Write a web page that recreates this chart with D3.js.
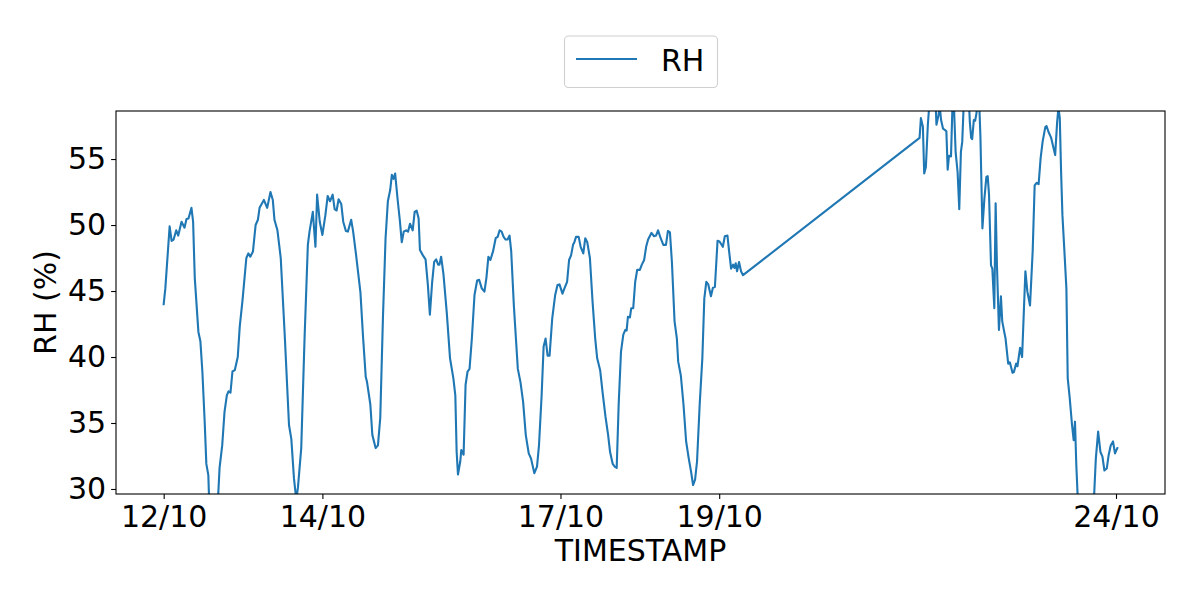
<!DOCTYPE html>
<html>
<head>
<meta charset="utf-8">
<script src="https://cdn.jsdelivr.net/npm/d3@7"></script>
<style>
  html, body { margin: 0; padding: 0; background: #fff; }
  svg { display: block; }
  text { font-family: "DejaVu Sans", sans-serif; fill: #000; }
</style>
</head>
<body>
<svg id="chart" width="1200" height="600"></svg>
<script>
// ---- data: hours after 12/10 00:00, relative humidity (%) ----
const hours = [
  0,0.5,1.8,2.4,3.0,3.8,4.4,5.4,6.3,6.9,7.5,8.4,8.9,9.4,10.5,11.1,11.7,12.4,12.9,13.5,13.7,15.1,16.5,16.9,17.7,18.4,19.1,19.6,20.2,20.8,21.5,22.4,23.0,23.8,25.0,25.6,26.2,27.0,27.8,28.5,29.0,30.3,31.3,32.3,33.0,33.5,34.4,35.4,36.6,37.9,38.6,39.4,40.1,40.6,41.6,42.6,43.6,44.1,45.1,45.9,46.4,47.2,48.0,48.9,49.6,50.3,51.1,51.7,52.3,52.9,53.7,54.3,55.1,55.7,56.7,57.3,58.2,59.5,60.3,61.1,61.5,62.5,63.1,64.1,64.8,65.5,66.3,67.1,67.8,68.5,69.0,69.5,70.0,70.8,71.4,72.0,72.6,73.3,73.9,74.5,75.3,75.9,76.5,77.1,77.5,78.4,79.2,79.9,80.5,81.2,81.8,82.4,83.0,83.4,83.9,84.6,85.6,86.6,87.6,88.2,88.6,89.0,89.7,90.0,90.7,91.3,91.9,92.5,93.2,94.0,94.8,95.4,96.2,97.0,97.6,98.2,98.8,99.6,100.4,101.0,101.6,102.2,102.8,103.4,104.0,104.6,105.1,105.9,107.1,107.9,108.7,109.5,110.4,111.1,112.1,112.9,113.5,114.3,114.9,115.5,116.1,116.7,117.5,118.4,119.1,119.7,120.6,121.2,122.0,122.6,123.2,123.8,124.2,124.7,125.5,126.1,126.9,127.5,128.1,128.9,129.7,130.5,131.1,132.0,132.7,133.6,134.4,135.0,135.8,136.4,137.0,137.6,138.3,139.0,139.6,140.0,140.4,141.0,141.4,142.0,142.6,143.2,144.0,144.6,145.3,145.9,146.5,147.5,148.3,148.9,149.5,150.3,151.1,151.9,152.5,153.1,153.7,154.5,155.2,155.6,156.4,157.2,158.0,158.8,159.5,160.1,160.7,161.3,162.1,162.9,163.5,164.1,164.7,165.5,166.1,166.7,167.5,168.1,169.1,169.7,170.5,171.0,171.6,172.2,172.6,173.0,173.4,174.0,174.6,175.2,
  228.6,229.0,229.6,230.0,230.5,231.1,231.8,232.7,233.4,233.7,234.3,234.7,235.1,235.7,236.3,236.7,237.1,237.5,238.1,238.6,238.9,239.1,239.5,240.1,240.6,241.1,241.5,242.0,242.8,243.5,243.8,244.2,244.5,245.0,245.4,245.8,246.3,246.6,247.0,247.6,248.2,248.8,249.2,249.6,250.2,250.6,251.2,251.6,252.0,252.6,253.2,253.6,254.2,254.6,255.4,255.9,256.7,257.1,257.8,258.2,259.0,259.6,260.2,260.6,261.2,262.0,262.8,263.4,264.0,264.6,265.2,265.8,266.6,267.0,267.6,268.4,269.0,269.6,270.2,270.6,271.0,271.4,271.8,272.4,273.0,273.4,274.0,274.7,275.2,275.6,276.0,276.4,277.9,279.7,281.4,281.9,282.6,283.3,283.9,284.5,285.2,285.8,286.4,287.1,287.7,288.4
];
const rh = [
  44.0,45.2,49.9,48.8,48.9,49.6,49.2,50.25,49.8,50.45,50.5,51.3,50.25,46.0,41.9,41.2,38.9,35.1,31.9,31.05,29.5,27.0,29.6,31.6,33.3,35.85,37.1,37.4,37.3,38.9,39.0,40.0,42.3,44.2,47.5,47.85,47.6,48.0,50.0,50.4,51.3,51.9,51.3,52.5,51.9,50.4,49.6,47.5,41.7,34.85,33.8,30.8,29.2,30.1,33.1,41.4,48.5,49.5,51.0,48.35,52.3,50.25,49.25,50.75,52.2,51.8,52.3,51.2,51.1,51.95,51.6,50.25,49.55,49.5,50.4,49.5,47.7,44.9,41.5,38.5,38.1,36.4,34.1,33.1,33.3,35.4,42.9,49.0,51.8,52.65,53.8,53.5,53.9,51.8,50.4,48.7,49.5,49.6,49.5,50.1,49.6,51.0,51.1,50.5,48.1,47.7,47.4,45.45,43.2,45.7,47.2,47.4,47.0,47.0,47.6,46.3,43.4,39.9,38.4,37.1,32.8,31.1,32.1,32.95,32.6,37.9,38.9,39.1,41.4,44.7,45.8,45.85,45.2,44.95,46.0,47.6,47.35,48.0,49.0,49.1,49.6,49.5,49.1,48.9,48.9,49.2,48.0,43.9,39.1,38.1,36.6,34.1,32.7,32.3,31.2,31.7,33.3,37.1,40.8,41.4,40.1,40.1,42.9,44.7,45.45,45.5,44.8,45.2,45.7,47.35,47.7,48.5,48.7,49.1,49.1,48.35,47.85,49.0,48.7,47.5,44.2,41.4,39.9,39.0,37.4,35.5,34.1,32.8,31.9,31.7,31.6,36.4,40.4,41.7,42.05,42.0,43.05,43.0,43.7,43.7,45.7,46.6,46.6,47.0,47.35,48.35,48.9,49.4,49.15,49.2,49.6,49.0,48.5,48.5,49.55,49.45,47.2,42.7,41.4,39.65,38.6,36.4,33.6,32.3,31.3,30.3,30.7,32.1,36.4,39.9,44.45,45.7,45.5,44.6,45.25,45.3,48.8,48.75,48.35,49.15,49.2,48.0,46.7,47.0,46.75,47.1,46.5,47.2,46.5,46.2,
  56.6,58.1,57.45,53.9,54.4,57.6,60.0,61.0,59.5,57.6,58.3,59.0,57.95,57.3,57.2,57.1,54.2,55.25,55.2,59.5,60.5,58.3,55.55,54.0,51.2,55.55,56.3,59.5,61.0,59.5,57.8,56.6,56.5,57.95,57.9,58.45,60.0,59.5,56.7,49.75,52.0,53.65,53.7,52.3,46.95,46.7,43.7,51.65,46.95,42.05,44.6,42.7,41.9,41.4,39.5,39.6,38.8,38.85,39.5,39.3,40.7,40.0,43.9,46.5,44.95,43.9,48.0,53.0,53.2,53.1,55.05,56.3,57.4,57.5,57.05,56.6,55.95,55.3,57.8,58.9,58.1,54.0,50.75,48.0,45.2,38.4,36.9,34.85,33.7,35.1,31.8,29.5,27.0,26.5,29.6,32.3,34.35,32.8,32.45,31.4,31.55,32.6,33.3,33.6,32.7,33.1
];
const yTicks = [30, 35, 40, 45, 50, 55];
const xTickDays = [12, 14, 17, 19, 24];
const yLimits = [29.62, 58.64];
const seriesName = "RH";
const xLabel = "TIMESTAMP";
const yLabel = "RH (%)";

// ---- layout ----
const m = { left: 116, right: 1165, top: 111, bottom: 494 };
const base = new Date(2023, 9, 12, 0, 0, 0);
const toDate = h => new Date(base.getTime() + h * 3600e3);
const data = hours.map((h, i) => ({ t: toDate(h), v: rh[i] }));

const ext = d3.extent(hours);
const pad = (ext[1] - ext[0]) * 0.05;
const x = d3.scaleTime()
  .domain([toDate(ext[0] - pad), toDate(ext[1] + pad)])
  .range([m.left, m.right]);
const y = d3.scaleLinear().domain(yLimits).range([m.bottom, m.top]);

const svg = d3.select("#chart");
const color = "#1f77b4";
const fs = 30;

svg.append("defs").append("clipPath").attr("id", "clip")
  .append("rect").attr("x", m.left).attr("y", m.top)
  .attr("width", m.right - m.left).attr("height", m.bottom - m.top);

// line
const line = d3.line().x(d => x(d.t)).y(d => y(d.v));
svg.append("path").datum(data)
  .attr("clip-path", "url(#clip)")
  .attr("fill", "none").attr("stroke", color)
  .attr("stroke-width", 2.1).attr("stroke-linejoin", "round").attr("stroke-linecap", "square")
  .attr("d", line);

// axes
const xAxis = d3.axisBottom(x)
  .tickValues(xTickDays.map(d => new Date(2023, 9, d)))
  .tickFormat(d3.timeFormat("%d/%m"))
  .tickSize(4.9).tickPadding(4.9);
const gx = svg.append("g").attr("transform", `translate(0,${m.bottom})`).call(xAxis);
const yAxis = d3.axisLeft(y).tickValues(yTicks).tickSize(4.9).tickPadding(4.9);
const gy = svg.append("g").attr("transform", `translate(${m.left},0)`).call(yAxis);
[gx, gy].forEach(g => {
  g.select(".domain").remove();
  g.selectAll(".tick line").attr("stroke", "#000").attr("stroke-width", 1.1);
  g.selectAll(".tick text").attr("font-family", "DejaVu Sans").attr("font-size", fs).attr("fill", "#000");
});
gx.selectAll(".tick text").attr("dy", "0.78em");

// frame
svg.append("rect").attr("x", m.left).attr("y", m.top)
  .attr("width", m.right - m.left).attr("height", m.bottom - m.top)
  .attr("fill", "none").attr("stroke", "#000").attr("stroke-width", 1.1);

// axis labels
svg.append("text").attr("x", (m.left + m.right) / 2).attr("y", 561)
  .attr("text-anchor", "middle").attr("font-size", fs).text(xLabel);
svg.append("text").attr("transform", `translate(55.5,${(m.top + m.bottom) / 2}) rotate(-90)`)
  .attr("text-anchor", "middle").attr("font-size", fs).text(yLabel);

// legend
const lg = svg.append("g");
lg.append("rect").attr("x", 564.5).attr("y", 36).attr("width", 153).attr("height", 51.5)
  .attr("rx", 4).attr("fill", "#fff").attr("stroke", "#d0d0d0").attr("stroke-width", 1.1);
lg.append("line").attr("x1", 576).attr("x2", 637).attr("y1", 59).attr("y2", 59)
  .attr("stroke", color).attr("stroke-width", 2.1);
lg.append("text").attr("x", 661).attr("y", 70.5).attr("font-size", fs).text(seriesName);
</script>
</body>
</html>
